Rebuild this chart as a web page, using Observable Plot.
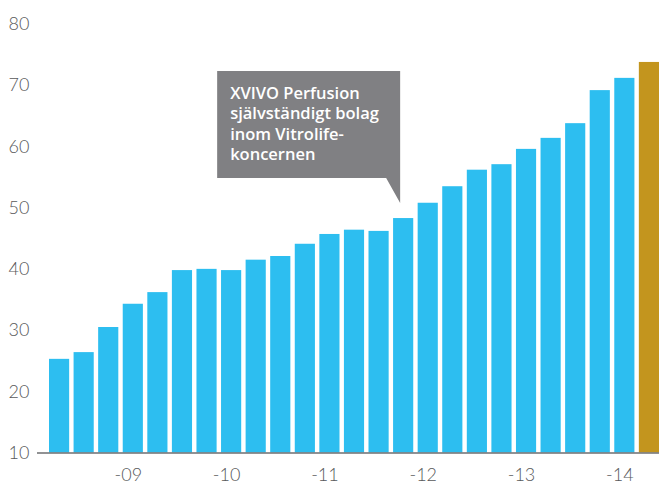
<!DOCTYPE html>
<html><head><meta charset="utf-8">
<script src="https://cdn.jsdelivr.net/npm/d3@7"></script>
<script src="https://cdn.jsdelivr.net/npm/@observablehq/plot@0.6"></script>
<style>
html,body{margin:0;padding:0;background:#fff;overflow:hidden}
</style></head><body><div id="chart"></div>
<script>
const quarters = [
  "2009 Q1","2009 Q2","2009 Q3","2009 Q4",
  "2010 Q1","2010 Q2","2010 Q3","2010 Q4",
  "2011 Q1","2011 Q2","2011 Q3","2011 Q4",
  "2012 Q1","2012 Q2","2012 Q3","2012 Q4",
  "2013 Q1","2013 Q2","2013 Q3","2013 Q4",
  "2014 Q1","2014 Q2","2014 Q3","2014 Q4",
  "2015 Q1"
];
const revenue = [25.3, 26.4, 30.5, 34.3, 36.2, 39.8, 40.0, 39.8, 41.5, 42.1, 44.1, 45.7, 46.4, 46.2, 48.3, 50.8, 53.5, 56.2, 57.1, 59.6, 61.4, 63.8, 69.2, 71.2, 73.8];
const highlighted = ["2015 Q1"];
const tickQuarters = ["2009 Q4","2010 Q4","2011 Q4","2012 Q4","2013 Q4","2014 Q4"];
const tickLabels = ["-09","-10","-11","-12","-13","-14"];
const yTicks = [10, 20, 30, 40, 50, 60, 70, 80];
const annotationLines = ["XVIVO Perfusion", "självständigt bolag", "inom Vitrolife-", "koncernen"];
const annotationAnchor = "2012 Q3";

const data = quarters.map((q, i) => ({quarter: q, value: revenue[i], hi: highlighted.includes(q)}));
const ticks = tickQuarters.map((q, i) => ({quarter: q, label: tickLabels[i]}));

function annotation(index, scales) {
  const sx = scales.x, sy = scales.y;
  const bw = typeof sx.bandwidth === "function" ? sx.bandwidth() : 0;
  const i = quarters.indexOf(annotationAnchor);
  const tipX = sx(annotationAnchor) + bw / 2 - 4;
  const tipY = sy(revenue[i]) - 15;
  const L = tipX - 182, R = tipX + 1, T = tipY - 132, B = tipY - 25;
  const g = d3.create("svg:g");
  g.append("path")
    .attr("d", `M${L},${T}H${R}V${tipY}L${R - 14},${B}H${L}Z`)
    .attr("fill", "#808083");
  const baselines = [28, 48, 69, 89];
  g.selectAll("text").data(annotationLines).join("text")
    .attr("x", L + 13)
    .attr("y", (d, j) => T + baselines[j])
    .attr("text-anchor", "start")
    .attr("fill", "#ffffff")
    .attr("font-family", "'Open Sans', Lato, sans-serif")
    .attr("font-weight", 600)
    .attr("font-size", 16.5)
    .text(d => d);
  return g.node();
}

const chart = Plot.plot({
  width: 659,
  height: 481,
  marginLeft: 49,
  marginRight: 0,
  marginTop: 24,
  marginBottom: 28.5,
  style: {fontFamily: "Lato, 'Open Sans', sans-serif", color: "#58595b", background: "#fff"},
  x: {type: "band", domain: quarters, paddingInner: 0.18, paddingOuter: 0, round: false, axis: null},
  y: {domain: [10, 80], axis: null},
  marks: [
    Plot.barY(data, {x: "quarter", y1: () => 10, y2: "value", fill: d => d.hi ? "#c3951e" : "#2dbef0"}),
    Plot.ruleY([10], {stroke: "#6d6e71", strokeWidth: 1.5, insetLeft: -12}),
    Plot.text(yTicks, {y: d => d, text: d => String(d), frameAnchor: "left", textAnchor: "end", dx: -20, fontSize: 18, fill: "#58595b", fontWeight: 300}),
    Plot.text(ticks, {x: "quarter", text: "label", frameAnchor: "bottom", lineAnchor: "top", dy: 15, dx: -5, fontSize: 18, fill: "#58595b", fontWeight: 300}),
    annotation
  ]
});
document.getElementById("chart").appendChild(chart);
</script></body></html>
